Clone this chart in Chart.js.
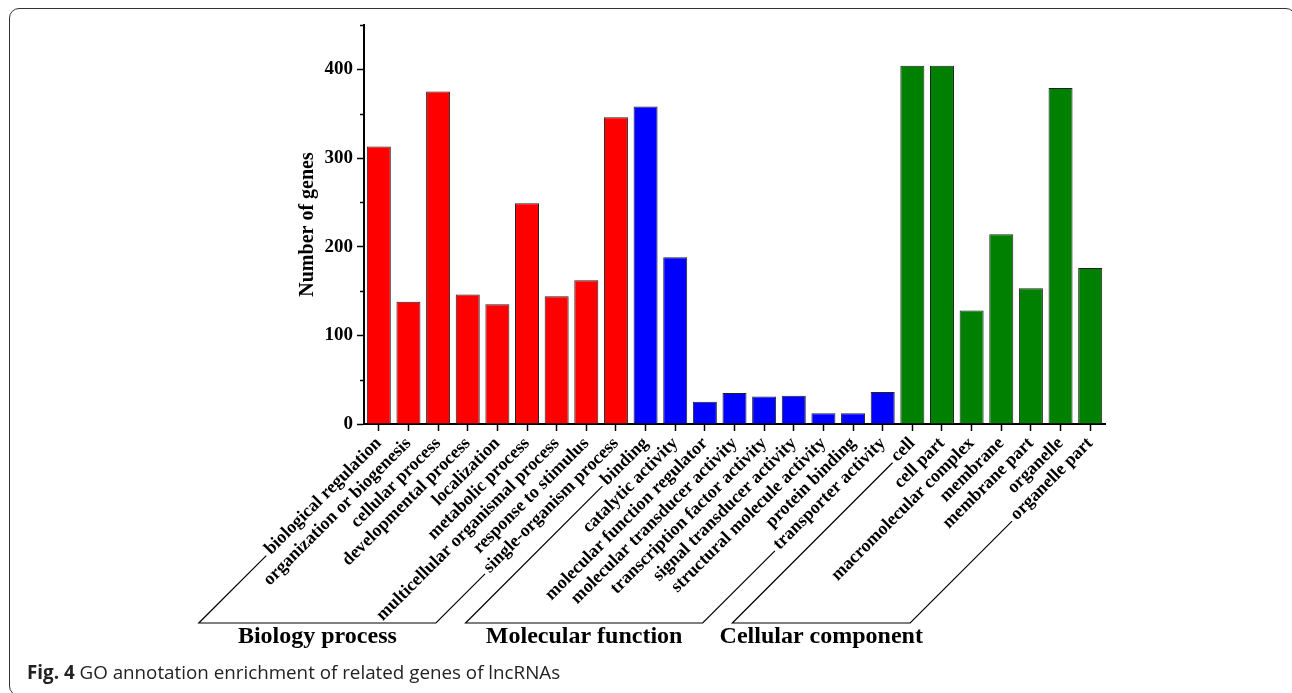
<!DOCTYPE html>
<html>
<head>
<meta charset="utf-8">
<script src="https://cdn.jsdelivr.net/npm/chart.js"></script>
<style>
    html, body { margin: 0; padding: 0; background: #fff; overflow: hidden; }
    #wrap { position: relative; width: 1292px; height: 693px; }
    #frame { position: absolute; left: 9px; top: 8px; width: 1287px; height: 688px; border: 1.5px solid #333; border-radius: 10px; box-sizing: border-box; }
    #chart { position: absolute; left: 0; top: 0; }
    #caption { position: absolute; left: 27px; top: 659px; line-height: 26px; font-family: "Open Sans", sans-serif; font-size: 18.8px; color: #222; white-space: nowrap; }
</style>
</head>
<body>
<div id="wrap">
    <div id="frame"></div>
    <canvas id="chart" width="1292" height="693"></canvas>
    <div id="caption"><b>Fig. 4</b> GO annotation enrichment of related genes of lncRNAs</div>
</div>
<script>
    // GO groups
    const bioLabels = ['biological regulation', 'organization or biogenesis', 'cellular process',
        'developmental process', 'localization', 'metabolic process',
        'multicellular organismal process', 'response to stimulus', 'single-organism process'];
    const bioValues = [313, 138, 375, 146, 135, 249, 144, 162, 346];

    const molLabels = ['binding', 'catalytic activity', 'molecular function regulator',
        'molecular transducer activity', 'transcription factor activity', 'signal transducer activity',
        'structural molecule activity', 'protein binding', 'transporter activity'];
    const molValues = [358, 188, 25, 35, 31, 32, 12, 12, 36];

    const cellLabels = ['cell', 'cell part', 'macromolecular complex', 'membrane',
        'membrane part', 'organelle', 'organelle part'];
    const cellValues = [404, 404, 128, 214, 153, 379, 176];

    const yMax = 450;
    const yStep = 50;
    const yTickLabels = [0, 100, 200, 300, 400];

    const groups = [
        { name: 'Biology process', labels: bioLabels, values: bioValues, color: '#FF0000' },
        { name: 'Molecular function', labels: molLabels, values: molValues, color: '#0000FF' },
        { name: 'Cellular component', labels: cellLabels, values: cellValues, color: '#008000' }
    ];

    const labels = groups.flatMap(g => g.labels);
    const values = groups.flatMap(g => g.values);
    const colors = groups.flatMap(g => g.labels.map(() => g.color));

    const serif = '"Liberation Serif", "Times New Roman", serif';
    const BRACKET_Y = 623;

    // short minor ticks on the y axis
    const minorTicks = {
        id: 'minorTicks',
        afterDraw(chart) {
            const { ctx, scales: { y } } = chart;
            ctx.save();
            ctx.strokeStyle = '#000';
            ctx.lineWidth = 1.5;
            y.ticks.forEach(t => {
                if (yTickLabels.includes(t.value)) return;
                const py = Math.round(y.getPixelForValue(t.value)) + 0.5;
                ctx.beginPath();
                ctx.moveTo(y.right - 4, py);
                ctx.lineTo(y.right, py);
                ctx.stroke();
            });
            ctx.restore();
        }
    };

    // slanted brackets and group names under the category labels
    const groupBrackets = {
        id: 'groupBrackets',
        afterDraw(chart) {
            const { ctx, scales: { x } } = chart;
            const xo = chart.options.scales.x;
            const rot = Math.PI / 4;
            // rotated labels sit a little below tick + padding
            const baseY = x.top + xo.grid.tickLength + xo.ticks.padding + 10;
            ctx.save();
            ctx.strokeStyle = '#000';
            ctx.lineWidth = 1.2;
            ctx.fillStyle = '#000';

            function labelEnd(i) {
                ctx.font = 'bold 18px ' + serif;
                const w = ctx.measureText(labels[i]).width + 2;
                return { x: x.getPixelForTick(i) - w * Math.cos(rot), y: baseY + w * Math.sin(rot) };
            }

            let start = 0;
            groups.forEach(g => {
                const a = labelEnd(start);
                const b = labelEnd(start + g.labels.length - 1);
                const ax = a.x - (BRACKET_Y - a.y);
                const bx = b.x - (BRACKET_Y - b.y);
                ctx.beginPath();
                ctx.moveTo(a.x, a.y);
                ctx.lineTo(ax, BRACKET_Y);
                ctx.lineTo(bx, BRACKET_Y);
                ctx.lineTo(b.x, b.y);
                ctx.stroke();

                ctx.font = 'bold 24px ' + serif;
                ctx.textAlign = 'center';
                ctx.textBaseline = 'alphabetic';
                ctx.fillText(g.name, (ax + bx) / 2, BRACKET_Y + 20);
                start += g.labels.length;
            });
            ctx.restore();
        }
    };

    new Chart(document.getElementById('chart'), {
        type: 'bar',
        data: {
            labels: labels,
            datasets: [{
                data: values,
                backgroundColor: colors,
                borderColor: '#222',
                borderWidth: 1,
                barPercentage: 0.81,
                categoryPercentage: 1
            }]
        },
        options: {
            responsive: false,
            animation: false,
            layout: { padding: { left: 292, top: 25, right: 187, bottom: 0 } },
            plugins: {
                legend: { display: false },
                tooltip: { enabled: false }
            },
            scales: {
                x: {
                    grid: { display: true, drawOnChartArea: false, offset: false, tickLength: 7, tickColor: '#000', tickWidth: 1.5 },
                    border: { display: true, color: '#000', width: 2 },
                    ticks: {
                        autoSkip: false, maxRotation: 45, minRotation: 45, padding: 2,
                        color: '#000', font: { family: serif, size: 18, weight: 'bold' }
                    },
                    afterFit: s => { s.height = 269; }
                },
                y: {
                    min: 0,
                    max: yMax,
                    grid: {
                        display: true, drawOnChartArea: false, tickLength: 7, tickWidth: 1.5,
                        tickColor: c => yTickLabels.includes(c.tick.value) ? '#000' : 'rgba(0,0,0,0)'
                    },
                    border: { display: true, color: '#000', width: 2 },
                    ticks: {
                        stepSize: yStep, padding: 4, color: '#000',
                        font: { family: serif, size: 19, weight: 'bold' },
                        callback: v => yTickLabels.includes(v) ? String(v) : ''
                    },
                    title: {
                        display: true, text: 'Number of genes', color: '#000',
                        font: { family: serif, size: 20, weight: 'bold' }
                    },
                    afterFit: s => { s.width = 72; }
                }
            }
        },
        plugins: [minorTicks, groupBrackets]
    });
</script>
</body>
</html>
